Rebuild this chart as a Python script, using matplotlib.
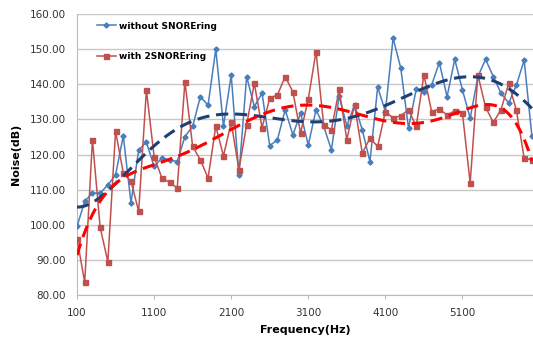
import numpy as np
import matplotlib
matplotlib.use("Agg")
import matplotlib.pyplot as plt

freq = list(range(100, 6001, 100))

without_snorering = [
    99.6, 106.7, 109.1, 109.0, 111.4, 114.2, 125.3, 106.3, 121.3, 123.5,
    116.6, 119.0, 118.5, 118.0, 125.1, 128.0, 136.4, 134.0, 149.9, 128.0,
    142.6, 114.2, 142.1, 133.6, 137.4, 122.5, 124.2, 132.7, 125.6, 131.7,
    122.7, 132.7, 128.0, 121.3, 136.6, 128.1, 134.1, 127.0, 118.0, 139.1,
    132.2, 153.0, 144.5, 127.5, 138.5, 137.8, 139.7, 146.1, 136.4, 147.0,
    138.3, 130.3, 142.1, 147.0, 142.1, 137.4, 134.6, 139.7, 146.8, 125.3,
]

with_2snorering = [
    96.1, 83.7, 124.2, 99.3, 89.6, 126.6, 114.8, 112.4, 103.9, 138.3,
    119.4, 113.4, 112.1, 110.5, 140.7, 122.3, 118.5, 113.3, 128.0, 119.6,
    129.1, 115.7, 128.4, 140.2, 127.6, 136.0, 136.9, 142.1, 137.8, 126.1,
    135.7, 149.2, 128.4, 127.0, 138.5, 124.2, 134.1, 120.4, 124.6, 122.3,
    132.2, 130.3, 131.0, 132.7, 128.0, 142.6, 132.2, 132.9, 131.2, 132.4,
    131.7, 111.9, 142.6, 133.4, 129.1, 132.7, 140.2, 132.5, 119.0, 118.5,
]

labels = ["without SNOREring", "with 2SNOREring"]
xticks = [100, 1100, 2100, 3100, 4100, 5100]
yticks = [80, 90, 100, 110, 120, 130, 140, 150, 160]

fig = plt.figure(figsize=(5.33, 3.43), dpi=100)
ax = fig.add_axes([0.1445, 0.1385, 0.8555, 0.8221])

x = np.array(freq, dtype=float)
xs = (x - 3050) / 3000.0
xfine = np.linspace(100, 6000, 400)
xfs = (xfine - 3050) / 3000.0

blue = "#4A7EBB"
red = "#C0504D"

ax.plot(freq, without_snorering, color=blue, lw=1.1, marker="D", ms=2.6,
        label=labels[0], zorder=3)
ax.plot(freq, with_2snorering, color=red, lw=1.1, marker="s", ms=3.6,
        label=labels[1], zorder=3)

pb = np.polyfit(xs, without_snorering, 6)
pr = np.polyfit(xs, with_2snorering, 6)
ax.plot(xfine, np.polyval(pb, xfs), color="#1F3F73", lw=2.2, ls=(0, (4, 2.2)), zorder=4)
ax.plot(xfine, np.polyval(pr, xfs), color="#FF0000", lw=2.2, ls=(0, (4, 2.2)), zorder=4)

ax.set_xlim(100, 6015)
ax.set_ylim(80, 160)
ax.set_xticks(xticks)
ax.set_xticklabels([str(t) for t in xticks], fontsize=7.5, color="#333333")
ax.set_yticks(yticks)
ax.set_yticklabels([f"{t:.2f}" for t in yticks], fontsize=7.5, color="#333333")
ax.yaxis.grid(True, color="#C8C8C8", lw=1.0)
ax.set_axisbelow(True)
for s in ["top", "right"]:
    ax.spines[s].set_visible(False)
ax.spines["left"].set_color("#BBBBBB")
ax.spines["bottom"].set_color("#BBBBBB")
ax.tick_params(axis="y", length=0, pad=8)
ax.tick_params(axis="x", length=3, color="#BBBBBB", pad=6)

ax.set_xlabel("Frequency(Hz)", fontsize=8, fontweight="bold", labelpad=5)
ax.set_ylabel("Noise(dB)", fontsize=8, fontweight="bold", labelpad=6)

leg = ax.legend(loc="upper left", bbox_to_anchor=(0.025, 1.0), frameon=False,
                prop={"size": 6.5, "weight": "bold"}, labelspacing=2.4,
                handlelength=2.2, handletextpad=0.3)

fig.savefig("out.png", dpi=100)
